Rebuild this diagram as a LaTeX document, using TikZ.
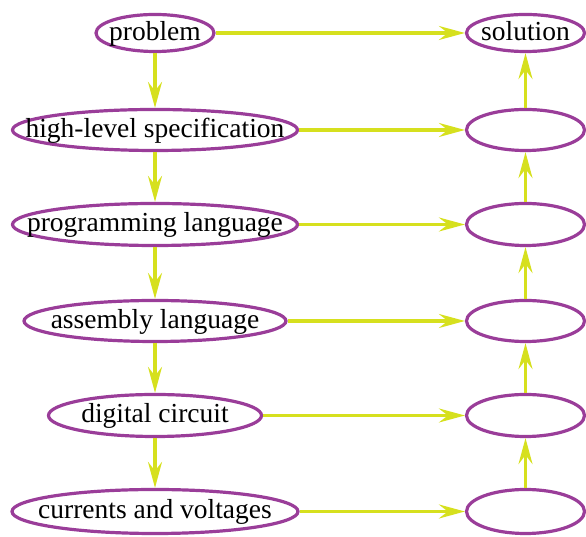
\documentclass[tikz,border=0pt]{standalone}
\usepackage{fontspec}
\setmainfont{Liberation Serif}
\usetikzlibrary{shapes.geometric,arrows.meta}
\definecolor{ellcol}{HTML}{9A3D99}
\definecolor{arrcol}{HTML}{D6E01E}
\newcommand{\lbl}[1]{\makebox[0pt]{\rule[-4pt]{0pt}{24pt}#1}}
\tikzset{
  ell/.style={ellipse, draw=ellcol, line width=3.2pt, inner sep=0pt, font=\fontsize{27.5}{30}\selectfont},
  conn/.style={draw=arrcol, line width=3.2pt, -{Stealth[length=26pt,width=14pt,inset=9pt]}}
}
\begin{document}
\begin{tikzpicture}[x=1pt,y=1pt]
\useasboundingbox (0,0) rectangle (586,537);
% left column
\node[ell, minimum width=118pt, minimum height=37pt] (p) at (155,504) {\lbl{problem}};
\node[ell, minimum width=285pt, minimum height=41pt] (h) at (155,407) {\lbl{high-level specification}};
\node[ell, minimum width=285pt, minimum height=42pt] (g) at (155,312.5) {\lbl{programming language}};
\node[ell, minimum width=262pt, minimum height=41pt] (a) at (155,216) {\lbl{assembly language}};
\node[ell, minimum width=213pt, minimum height=42pt] (d) at (155,121.5) {\lbl{digital circuit}};
\node[ell, minimum width=286pt, minimum height=44pt] (c) at (155,25.5) {\lbl{currents and voltages}};
% right column
\node[ell, minimum width=118pt, minimum height=37pt] (s) at (525.5,504) {\lbl{solution}};
\node[ell, minimum width=118pt, minimum height=41pt] (r1) at (525.5,407) {};
\node[ell, minimum width=118pt, minimum height=42pt] (r2) at (525.5,312.5) {};
\node[ell, minimum width=118pt, minimum height=41pt] (r3) at (525.5,216) {};
\node[ell, minimum width=118pt, minimum height=42pt] (r4) at (525.5,121.5) {};
\node[ell, minimum width=118pt, minimum height=44pt] (r5) at (525.5,25.5) {};
% left vertical
\draw[conn] (p) -- (h);
\draw[conn] (h) -- (g);
\draw[conn] (g) -- (a);
\draw[conn] (a) -- (d);
\draw[conn] (d) -- (c);
% horizontal
\draw[conn] (p) -- (s);
\draw[conn] (h) -- (r1);
\draw[conn] (g) -- (r2);
\draw[conn] (a) -- (r3);
\draw[conn] (d) -- (r4);
\draw[conn] (c) -- (r5);
% right vertical
\draw[conn] (r5) -- (r4);
\draw[conn] (r4) -- (r3);
\draw[conn] (r3) -- (r2);
\draw[conn] (r2) -- (r1);
\draw[conn] (r1) -- (s);
\end{tikzpicture}
\end{document}
